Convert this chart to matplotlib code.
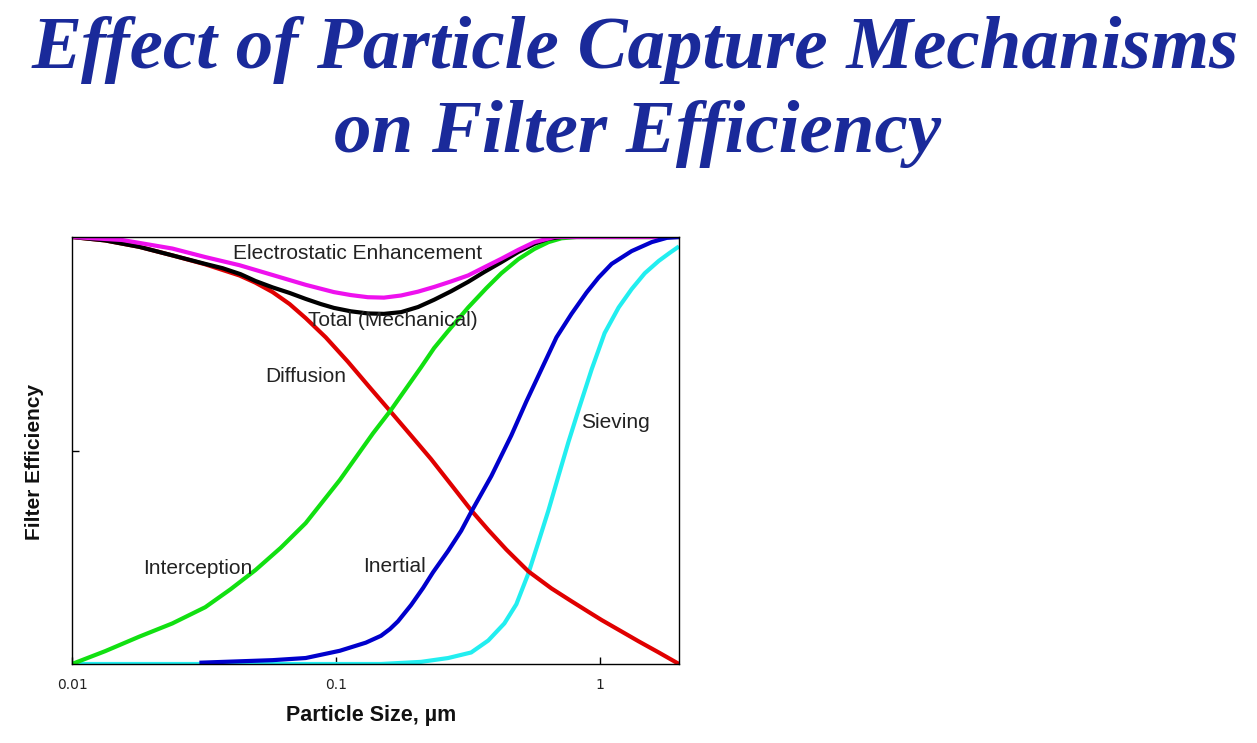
import matplotlib
matplotlib.use("Agg")
import matplotlib.pyplot as plt

# ---- data (particle size in µm, efficiency 0..1) ----
diff_x = [0.01, 0.01335, 0.01798, 0.0240, 0.0320, 0.0431, 0.0496, 0.0576, 0.0668, 0.0769, 0.0916, 0.1111,
          0.1335, 0.1619, 0.1929, 0.2296, 0.2737, 0.326, 0.3784, 0.4430, 0.537, 0.657, 0.7826, 0.908,
          1.0176, 1.2125, 1.407, 1.676, 2.0]
diff_y = [1.0, 0.992, 0.977, 0.957, 0.936, 0.910, 0.893, 0.871, 0.843, 0.810, 0.765, 0.708,
          0.650, 0.590, 0.535, 0.480, 0.420, 0.360, 0.314, 0.268, 0.217, 0.177, 0.147, 0.122,
          0.103, 0.076, 0.053, 0.027, 0.0]

inter_x = [0.01, 0.01335, 0.01798, 0.0240, 0.0320, 0.0399, 0.0496, 0.0618, 0.0769, 0.1036, 0.1383, 0.1619,
           0.1846, 0.2105, 0.2359, 0.2667, 0.3176, 0.3719, 0.4241, 0.492, 0.566, 0.640, 0.717, 0.8175, 2.0]
inter_y = [0.0, 0.030, 0.064, 0.095, 0.133, 0.175, 0.220, 0.272, 0.330, 0.431, 0.540, 0.595,
           0.645, 0.695, 0.740, 0.780, 0.835, 0.880, 0.915, 0.948, 0.972, 0.988, 0.997, 1.0, 1.0]

inert_x = [0.0304, 0.0576, 0.0769, 0.1036, 0.130, 0.1483, 0.1605, 0.1721, 0.1929, 0.2142, 0.2338, 0.2667,
           0.2988, 0.326, 0.3886, 0.4625, 0.5278, 0.6018, 0.6863, 0.7826, 0.8925, 0.991, 1.1108, 1.323,
           1.576, 1.798, 2.0]
inert_y = [0.003, 0.009, 0.014, 0.031, 0.050, 0.066, 0.082, 0.100, 0.138, 0.178, 0.215, 0.265,
           0.312, 0.356, 0.440, 0.535, 0.615, 0.690, 0.765, 0.820, 0.870, 0.905, 0.937, 0.967,
           0.988, 0.998, 1.0]

sieve_x = [0.01, 0.1483, 0.2105, 0.2667, 0.326, 0.3784, 0.4355, 0.4836, 0.537, 0.586, 0.640, 0.698,
           0.762, 0.832, 0.933, 1.045, 1.181, 1.323, 1.483, 1.676, 1.846, 2.0]
sieve_y = [0.0, 0.0, 0.005, 0.014, 0.027, 0.055, 0.095, 0.140, 0.212, 0.285, 0.360, 0.440,
           0.520, 0.595, 0.690, 0.775, 0.835, 0.878, 0.915, 0.944, 0.963, 0.978]

total_x = [0.01, 0.01335, 0.01798, 0.0240, 0.0320, 0.0372, 0.04352, 0.0496, 0.0576, 0.0668, 0.0769, 0.0877,
           0.0983, 0.1140, 0.1323, 0.1522, 0.1767, 0.2050, 0.2359, 0.2737, 0.3176, 0.3653, 0.4241,
           0.492, 0.566, 0.640, 0.717, 2.0]
total_y = [1.0, 0.992, 0.977, 0.957, 0.937, 0.927, 0.913, 0.897, 0.882, 0.869, 0.855, 0.843,
           0.834, 0.826, 0.821, 0.820, 0.824, 0.836, 0.853, 0.873, 0.895, 0.918, 0.941,
           0.965, 0.984, 0.996, 1.0, 1.0]

elec_x = [0.01, 0.01549, 0.0240, 0.0320, 0.0431, 0.0576, 0.0769, 0.0983, 0.1140, 0.1323, 0.1522, 0.1767,
          0.2050, 0.2359, 0.2737, 0.3176, 0.3653, 0.4241, 0.492, 0.566, 0.6744, 2.0]
elec_y = [1.0, 0.993, 0.973, 0.953, 0.934, 0.911, 0.888, 0.871, 0.864, 0.859, 0.858, 0.863,
          0.872, 0.883, 0.896, 0.910, 0.929, 0.949, 0.970, 0.988, 1.0, 1.0]

x_ticks = [0.01, 0.1, 1]
x_tick_labels = ["0.01", "0.1", "1"]

labels = ["Electrostatic Enhancement", "Total (Mechanical)", "Diffusion", "Sieving", "Interception", "Inertial"]

# ---- figure ----
W, H = 1257, 743
fig = plt.figure(figsize=(W / 100, H / 100), dpi=100)
ax = fig.add_axes([72 / W, 1 - 664 / H, (679 - 72) / W, (664 - 237) / H])

lw = 3.0
kw = dict(lw=lw, solid_capstyle="butt", solid_joinstyle="round")
ax.plot(sieve_x, sieve_y, color="#22eef0", **kw)
ax.plot(diff_x, diff_y, color="#e00000", **kw)
ax.plot(inter_x, inter_y, color="#11e011", **kw)
ax.plot(total_x, total_y, color="#000000", **kw)
ax.plot(elec_x, elec_y, color="#ee11ee", **kw)
ax.plot(inert_x, inert_y, color="#0000cc", **kw)

ax.set_xscale("log")
ax.set_xlim(0.01, 2.0)
ax.set_ylim(0, 1)
ax.set_xticks(x_ticks)
ax.set_xticklabels(x_tick_labels)
ax.xaxis.set_minor_locator(matplotlib.ticker.NullLocator())
ax.set_yticks([0.5])
ax.set_yticklabels([""])
ax.tick_params(direction="in", length=5, width=1, labelsize=10, pad=10,
               labelcolor="#222222")
for s in ax.spines.values():
    s.set_linewidth(1.0)
    s.set_color("black")

def fx(px):
    return px / W

def fy(py):
    return 1 - py / H

lab_font = dict(family="Liberation Sans", fontsize=15, color="#222222",
                ha="center", va="center")
pos = [(358, 253), (393, 321), (306, 377), (615, 423), (198, 568), (395, 566)]
for t, (px, py) in zip(labels, pos):
    fig.text(fx(px), fy(py), t, **lab_font)

fig.text(fx(371), fy(716), "Particle Size, µm", family="Liberation Sans",
         fontsize=15.5, fontweight="bold", color="#111111", ha="center", va="center")
fig.text(fx(35), fy(462), "Filter Efficiency", family="Liberation Sans",
         fontsize=15, fontweight="bold", color="#111111", ha="center", va="center",
         rotation=90)

title_font = dict(family="Liberation Serif", fontsize=54, fontweight="bold",
                  style="italic", color="#1a2a9a", ha="center", va="center")
fig.text(fx(635), fy(50), "Effect of Particle Capture Mechanisms", **title_font)
fig.text(fx(637), fy(134), "on Filter Efficiency", **title_font)

fig.savefig("out.png", dpi=100)
